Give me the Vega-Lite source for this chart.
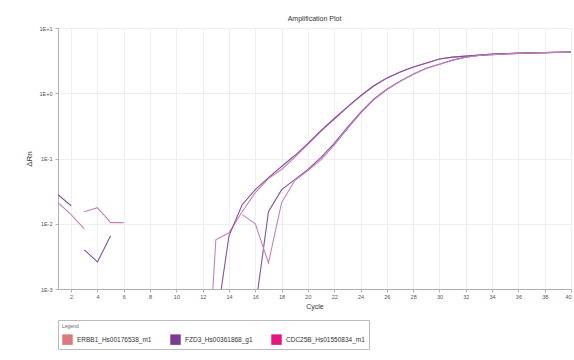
{
  "$schema": "https://vega.github.io/schema/vega-lite/v6.json",
  "autosize": {"type": "fit", "contains": "padding"},
  "width": 574,
  "height": 360,
  "padding": {"left": 25, "top": 15, "right": 2, "bottom": 10},
  "background": "white",
  "title": {"text": "Amplification Plot", "fontSize": 7, "fontWeight": "normal", "color": "#333", "font": "Liberation Sans", "offset": 4},
  "config": {
    "font": "Liberation Sans",
    "view": {"stroke": null},
    "axis": {"labelFontSize": 5.5, "labelColor": "#555", "titleColor": "#333", "titleFontWeight": "normal", "gridColor": "#efefef", "domainColor": "#b0b0b0", "tickColor": "#b0b0b0", "tickSize": 3}
  },
  "datasets": {
    "curves": [
      {"seg": "n1", "curve": "rep2", "cycle": 1, "drn": 0.0279},
      {"seg": "n1", "curve": "rep2", "cycle": 2, "drn": 0.0189},
      {"seg": "n2", "curve": "rep1", "cycle": 1, "drn": 0.0210},
      {"seg": "n2", "curve": "rep1", "cycle": 2, "drn": 0.0138},
      {"seg": "n2", "curve": "rep1", "cycle": 3, "drn": 0.00838},
      {"seg": "n3", "curve": "rep1", "cycle": 3, "drn": 0.0153},
      {"seg": "n3", "curve": "rep1", "cycle": 4, "drn": 0.0176},
      {"seg": "n3", "curve": "rep1", "cycle": 5, "drn": 0.0104},
      {"seg": "n3", "curve": "rep1", "cycle": 6, "drn": 0.0104},
      {"seg": "n4", "curve": "rep2", "cycle": 3, "drn": 0.00398},
      {"seg": "n4", "curve": "rep2", "cycle": 4, "drn": 0.00260},
      {"seg": "n4", "curve": "rep2", "cycle": 5, "drn": 0.00654},

      {"seg": "eA", "curve": "rep1", "cycle": 12, "drn": 0.000003},
      {"seg": "eA", "curve": "rep1", "cycle": 13, "drn": 0.00567},
      {"seg": "eA", "curve": "rep1", "cycle": 14, "drn": 0.00728},
      {"seg": "eA", "curve": "rep1", "cycle": 15, "drn": 0.0153},
      {"seg": "eA", "curve": "rep1", "cycle": 16, "drn": 0.0300},
      {"seg": "eA", "curve": "rep1", "cycle": 17, "drn": 0.0492},
      {"seg": "eA", "curve": "rep1", "cycle": 18, "drn": 0.0678},
      {"seg": "eA", "curve": "rep1", "cycle": 19, "drn": 0.104},
      {"seg": "eA", "curve": "rep1", "cycle": 20, "drn": 0.164},
      {"seg": "eA", "curve": "rep1", "cycle": 21, "drn": 0.260},
      {"seg": "eA", "curve": "rep1", "cycle": 22, "drn": 0.398},
      {"seg": "eA", "curve": "rep1", "cycle": 23, "drn": 0.609},
      {"seg": "eA", "curve": "rep1", "cycle": 24, "drn": 0.90},
      {"seg": "eA", "curve": "rep1", "cycle": 25, "drn": 1.28},
      {"seg": "eA", "curve": "rep1", "cycle": 26, "drn": 1.70},
      {"seg": "eA", "curve": "rep1", "cycle": 27, "drn": 2.10},
      {"seg": "eA", "curve": "rep1", "cycle": 28, "drn": 2.51},
      {"seg": "eA", "curve": "rep1", "cycle": 29, "drn": 2.89},
      {"seg": "eA", "curve": "rep1", "cycle": 30, "drn": 3.34},
      {"seg": "eA", "curve": "rep1", "cycle": 31, "drn": 3.58},
      {"seg": "eA", "curve": "rep1", "cycle": 32, "drn": 3.71},
      {"seg": "eA", "curve": "rep1", "cycle": 33, "drn": 3.84},
      {"seg": "eA", "curve": "rep1", "cycle": 34, "drn": 3.98},
      {"seg": "eA", "curve": "rep1", "cycle": 35, "drn": 4.05},
      {"seg": "eA", "curve": "rep1", "cycle": 36, "drn": 4.12},
      {"seg": "eA", "curve": "rep1", "cycle": 37, "drn": 4.16},
      {"seg": "eA", "curve": "rep1", "cycle": 38, "drn": 4.20},
      {"seg": "eA", "curve": "rep1", "cycle": 39, "drn": 4.24},
      {"seg": "eA", "curve": "rep1", "cycle": 40, "drn": 4.27},

      {"seg": "eB", "curve": "rep2", "cycle": 13, "drn": 0.00027},
      {"seg": "eB", "curve": "rep2", "cycle": 14, "drn": 0.00654},
      {"seg": "eB", "curve": "rep2", "cycle": 15, "drn": 0.0196},
      {"seg": "eB", "curve": "rep2", "cycle": 16, "drn": 0.0333},
      {"seg": "eB", "curve": "rep2", "cycle": 17, "drn": 0.0510},
      {"seg": "eB", "curve": "rep2", "cycle": 18, "drn": 0.0753},
      {"seg": "eB", "curve": "rep2", "cycle": 19, "drn": 0.111},
      {"seg": "eB", "curve": "rep2", "cycle": 20, "drn": 0.170},
      {"seg": "eB", "curve": "rep2", "cycle": 21, "drn": 0.270},
      {"seg": "eB", "curve": "rep2", "cycle": 22, "drn": 0.41},
      {"seg": "eB", "curve": "rep2", "cycle": 23, "drn": 0.62},
      {"seg": "eB", "curve": "rep2", "cycle": 24, "drn": 0.92},
      {"seg": "eB", "curve": "rep2", "cycle": 25, "drn": 1.30},
      {"seg": "eB", "curve": "rep2", "cycle": 26, "drn": 1.72},
      {"seg": "eB", "curve": "rep2", "cycle": 27, "drn": 2.12},
      {"seg": "eB", "curve": "rep2", "cycle": 28, "drn": 2.53},
      {"seg": "eB", "curve": "rep2", "cycle": 29, "drn": 2.90},
      {"seg": "eB", "curve": "rep2", "cycle": 30, "drn": 3.35},
      {"seg": "eB", "curve": "rep2", "cycle": 31, "drn": 3.58},
      {"seg": "eB", "curve": "rep2", "cycle": 32, "drn": 3.71},
      {"seg": "eB", "curve": "rep2", "cycle": 33, "drn": 3.84},
      {"seg": "eB", "curve": "rep2", "cycle": 34, "drn": 3.98},
      {"seg": "eB", "curve": "rep2", "cycle": 35, "drn": 4.05},
      {"seg": "eB", "curve": "rep2", "cycle": 36, "drn": 4.12},
      {"seg": "eB", "curve": "rep2", "cycle": 37, "drn": 4.16},
      {"seg": "eB", "curve": "rep2", "cycle": 38, "drn": 4.20},
      {"seg": "eB", "curve": "rep2", "cycle": 39, "drn": 4.24},
      {"seg": "eB", "curve": "rep2", "cycle": 40, "drn": 4.27},

      {"seg": "lA", "curve": "rep2", "cycle": 16, "drn": 0.0005},
      {"seg": "lA", "curve": "rep2", "cycle": 17, "drn": 0.0153},
      {"seg": "lA", "curve": "rep2", "cycle": 18, "drn": 0.0333},
      {"seg": "lA", "curve": "rep2", "cycle": 19, "drn": 0.0475},
      {"seg": "lA", "curve": "rep2", "cycle": 20, "drn": 0.0678},
      {"seg": "lA", "curve": "rep2", "cycle": 21, "drn": 0.104},
      {"seg": "lA", "curve": "rep2", "cycle": 22, "drn": 0.170},
      {"seg": "lA", "curve": "rep2", "cycle": 23, "drn": 0.300},
      {"seg": "lA", "curve": "rep2", "cycle": 24, "drn": 0.510},
      {"seg": "lA", "curve": "rep2", "cycle": 25, "drn": 0.809},
      {"seg": "lA", "curve": "rep2", "cycle": 26, "drn": 1.15},
      {"seg": "lA", "curve": "rep2", "cycle": 27, "drn": 1.53},
      {"seg": "lA", "curve": "rep2", "cycle": 28, "drn": 1.96},
      {"seg": "lA", "curve": "rep2", "cycle": 29, "drn": 2.42},
      {"seg": "lA", "curve": "rep2", "cycle": 30, "drn": 2.79},
      {"seg": "lA", "curve": "rep2", "cycle": 31, "drn": 3.22},
      {"seg": "lA", "curve": "rep2", "cycle": 32, "drn": 3.58},
      {"seg": "lA", "curve": "rep2", "cycle": 33, "drn": 3.78},
      {"seg": "lA", "curve": "rep2", "cycle": 34, "drn": 3.91},
      {"seg": "lA", "curve": "rep2", "cycle": 35, "drn": 4.00},
      {"seg": "lA", "curve": "rep2", "cycle": 36, "drn": 4.08},
      {"seg": "lA", "curve": "rep2", "cycle": 37, "drn": 4.14},
      {"seg": "lA", "curve": "rep2", "cycle": 38, "drn": 4.19},
      {"seg": "lA", "curve": "rep2", "cycle": 39, "drn": 4.23},
      {"seg": "lA", "curve": "rep2", "cycle": 40, "drn": 4.27},

      {"seg": "lB", "curve": "rep1", "cycle": 15, "drn": 0.0138},
      {"seg": "lB", "curve": "rep1", "cycle": 16, "drn": 0.0100},
      {"seg": "lB", "curve": "rep1", "cycle": 17, "drn": 0.00251},
      {"seg": "lB", "curve": "rep1", "cycle": 18, "drn": 0.0210},
      {"seg": "lB", "curve": "rep1", "cycle": 19, "drn": 0.0459},
      {"seg": "lB", "curve": "rep1", "cycle": 20, "drn": 0.0653},
      {"seg": "lB", "curve": "rep1", "cycle": 21, "drn": 0.0966},
      {"seg": "lB", "curve": "rep1", "cycle": 22, "drn": 0.160},
      {"seg": "lB", "curve": "rep1", "cycle": 23, "drn": 0.285},
      {"seg": "lB", "curve": "rep1", "cycle": 24, "drn": 0.49},
      {"seg": "lB", "curve": "rep1", "cycle": 25, "drn": 0.79},
      {"seg": "lB", "curve": "rep1", "cycle": 26, "drn": 1.13},
      {"seg": "lB", "curve": "rep1", "cycle": 27, "drn": 1.52},
      {"seg": "lB", "curve": "rep1", "cycle": 28, "drn": 1.95},
      {"seg": "lB", "curve": "rep1", "cycle": 29, "drn": 2.41},
      {"seg": "lB", "curve": "rep1", "cycle": 30, "drn": 2.78},
      {"seg": "lB", "curve": "rep1", "cycle": 31, "drn": 3.21},
      {"seg": "lB", "curve": "rep1", "cycle": 32, "drn": 3.57},
      {"seg": "lB", "curve": "rep1", "cycle": 33, "drn": 3.78},
      {"seg": "lB", "curve": "rep1", "cycle": 34, "drn": 3.91},
      {"seg": "lB", "curve": "rep1", "cycle": 35, "drn": 4.00},
      {"seg": "lB", "curve": "rep1", "cycle": 36, "drn": 4.08},
      {"seg": "lB", "curve": "rep1", "cycle": 37, "drn": 4.14},
      {"seg": "lB", "curve": "rep1", "cycle": 38, "drn": 4.19},
      {"seg": "lB", "curve": "rep1", "cycle": 39, "drn": 4.23},
      {"seg": "lB", "curve": "rep1", "cycle": 40, "drn": 4.27}
    ],
    "genes": [
      {"gene": "ERBB1_Hs00176538_m1"},
      {"gene": "FZD3_Hs00361868_g1"},
      {"gene": "CDC25B_Hs01550834_m1"}
    ]
  },
  "layer": [
    {
      "data": {"name": "curves"},
      "mark": {"type": "line", "clip": true, "strokeWidth": 1.1, "interpolate": "linear"},
      "encoding": {
        "x": {"field": "cycle", "type": "quantitative", "scale": {"domain": [1, 40], "nice": false, "zero": false},
              "axis": {"title": "Cycle", "titleFontSize": 7, "titlePadding": 3, "values": [2,4,6,8,10,12,14,16,18,20,22,24,26,28,30,32,34,36,38,40], "labelPadding": 2}},
        "y": {"field": "drn", "type": "quantitative", "scale": {"type": "log", "domain": [0.001, 10], "nice": false},
              "axis": {"title": "ΔRn", "titleFontSize": 8, "titlePadding": 6, "values": [0.001, 0.01, 0.1, 1, 10], "labelExpr": "upper(format(datum.value, '.0e'))", "labelPadding": 3}},
        "detail": {"field": "seg"},
        "color": {"field": "curve", "type": "nominal", "scale": {"domain": ["rep1", "rep2"], "range": ["#c483bb", "#85529a"]}, "legend": null}
      }
    },
    {
      "data": {"name": "genes"},
      "mark": {"type": "square", "opacity": 0, "size": 1},
      "encoding": {
        "color": {"field": "gene", "type": "nominal",
                  "scale": {"domain": ["ERBB1_Hs00176538_m1", "FZD3_Hs00361868_g1", "CDC25B_Hs01550834_m1"], "range": ["#d9797c", "#7b3a93", "#e5157f"]},
                  "legend": {"title": "Legend", "orient": "bottom", "direction": "horizontal", "titleFontSize": 5, "titleColor": "#666", "titleFontWeight": "normal", "labelFontSize": 6.5, "labelColor": "#333", "symbolType": "square", "symbolSize": 110, "symbolOpacity": 1, "symbolStrokeWidth": 0, "strokeColor": "#bbbbbb", "padding": 4, "columnPadding": 18, "offset": 10}}
      }
    }
  ],
  "resolve": {"scale": {"color": "independent"}, "legend": {"color": "independent"}}
}
